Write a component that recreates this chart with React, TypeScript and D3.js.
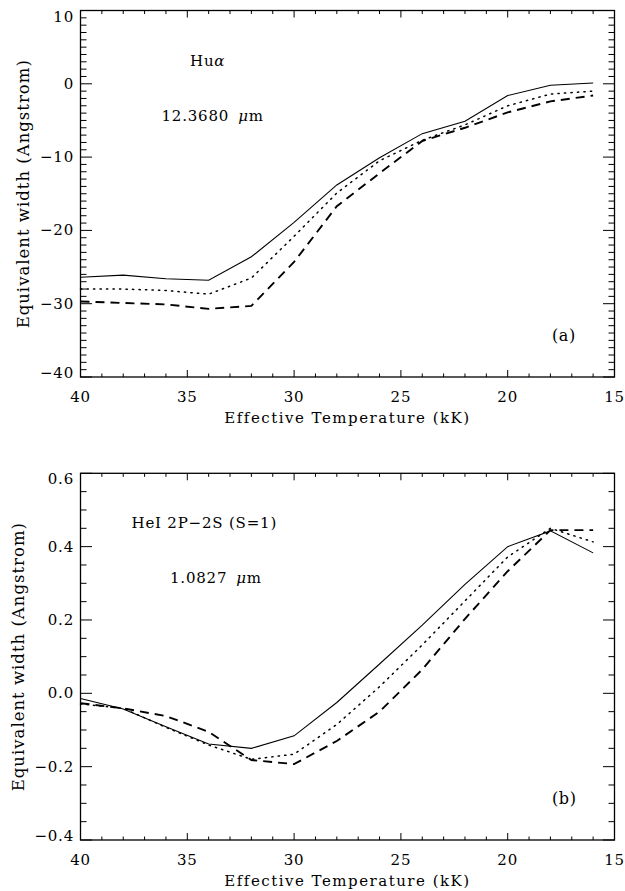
import { useEffect, useRef } from "react";
import * as d3 from "d3";

// effective temperatures of the model grid (kK)
const temps = [40, 38, 36, 34, 32, 30, 28, 26, 24, 22, 20, 18, 16];

// (a) Hu alpha 12.3680 um
const huSolid = [-26.4, -26.1, -26.6, -26.8, -23.6, -18.9, -13.8, -10.1, -6.8, -5.1, -1.6, -0.2, 0.1];
const huDotted = [-28.0, -28.0, -28.2, -28.7, -26.5, -20.8, -14.9, -10.5, -7.7, -5.6, -3.0, -1.4, -1.0];
const huDashed = [-29.7, -29.9, -30.1, -30.7, -30.3, -24.3, -16.7, -12.2, -7.8, -6.0, -3.9, -2.4, -1.6];

// (b) HeI 2P-2S 1.0827 um
const heSolid = [-0.014, -0.043, -0.091, -0.138, -0.15, -0.116, -0.025, 0.08, 0.186, 0.297, 0.4, 0.443, 0.383];
const heDotted = [-0.029, -0.041, -0.093, -0.141, -0.18, -0.166, -0.085, 0.018, 0.132, 0.252, 0.372, 0.45, 0.413];
const heDashed = [-0.027, -0.041, -0.062, -0.105, -0.182, -0.193, -0.13, -0.05, 0.065, 0.203, 0.333, 0.445, 0.445];

const xTicks = [40, 35, 30, 25, 20, 15];
const huTicks = [10, 0, -10, -20, -30, -40];
const huTickLabels = ["10", "0", "\u221210", "\u221220", "\u221230", "\u221240"];
const heTicks = [0.6, 0.4, 0.2, 0.0, -0.2, -0.4];
const heTickLabels = ["0.6", "0.4", "0.2", "0.0", "\u22120.2", "\u22120.4"];

const FONT = "'DejaVu Serif', serif";

type Panel = {
  top: number;
  bottom: number;
  domain: [number, number];
  ticks: number[];
  labels: string[];
  minor: number[];
  series: number[][];
  line1: string;
  line1Italic: string;
  note1: [number, number];
  wave: string;
  note2: [number, number];
  tag: string;
  tagY: number;
  titleX: number;
};

const panels: Panel[] = [
  {
    top: 10.5,
    bottom: 377,
    domain: [-40, 10],
    ticks: huTicks,
    labels: huTickLabels,
    minor: d3.range(-40, 11, 1),
    series: [huSolid, huDotted, huDashed],
    line1: "Hu",
    line1Italic: "\u03b1",
    note1: [190, 66],
    wave: "12.3680",
    note2: [161.5, 120.7],
    tag: "(a)",
    tagY: 341,
    titleX: 28.5,
  },
  {
    top: 473.3,
    bottom: 840,
    domain: [-0.4, 0.6],
    ticks: heTicks,
    labels: heTickLabels,
    minor: d3.range(-8, 13, 1).map((i) => i * 0.05),
    series: [heSolid, heDotted, heDashed],
    line1: "HeI 2P\u22122S (S=1)",
    line1Italic: "",
    note1: [131.5, 528.3],
    wave: "1.0827",
    note2: [170, 583.3],
    tag: "(b)",
    tagY: 804,
    titleX: 24,
  },
];

const styles = [
  { width: 1.1, dash: null },
  { width: 1.5, dash: "1.3,5.2" },
  { width: 1.9, dash: "9,6" },
];

const App = () => {
  const svgRef = useRef<SVGSVGElement>(null);

  useEffect(() => {
    const svg = d3.select(svgRef.current);
    svg.selectAll("*").remove();

    const left = 80.5;
    const right = 614.5;

    const x = d3.scaleLinear().domain([40, 15]).range([left, right]);

    panels.forEach((p) => {
      const y = d3.scaleLinear().domain(p.domain).range([p.bottom, p.top]);
      const g = svg.append("g");

      // ticks (all pointing inward, on all four sides)
      const majorStep = p.ticks[0] - p.ticks[1];
      const isMajorY = (v: number) =>
        Math.abs(v / majorStep - Math.round(v / majorStep)) < 1e-6;

      d3.range(15, 41, 1).forEach((t) => {
        const len = t % 5 === 0 ? 7 : 3.5;
        g.append("line")
          .attr("x1", x(t)).attr("x2", x(t))
          .attr("y1", p.bottom).attr("y2", p.bottom - len)
          .attr("stroke", "#000").attr("stroke-width", 1);
        g.append("line")
          .attr("x1", x(t)).attr("x2", x(t))
          .attr("y1", p.top).attr("y2", p.top + len)
          .attr("stroke", "#000").attr("stroke-width", 1);
      });

      p.minor.forEach((v) => {
        const len = isMajorY(v) ? 11.5 : 6;
        g.append("line")
          .attr("x1", left).attr("x2", left + len)
          .attr("y1", y(v)).attr("y2", y(v))
          .attr("stroke", "#000").attr("stroke-width", 1);
        g.append("line")
          .attr("x1", right).attr("x2", right - len)
          .attr("y1", y(v)).attr("y2", y(v))
          .attr("stroke", "#000").attr("stroke-width", 1);
      });

      // frame
      g.append("rect")
        .attr("x", left).attr("y", p.top)
        .attr("width", right - left).attr("height", p.bottom - p.top)
        .attr("fill", "none").attr("stroke", "#000").attr("stroke-width", 1.3);

      // tick labels
      g.selectAll(".xlab")
        .data(xTicks)
        .enter().append("text")
        .attr("x", (d) => x(d))
        .attr("y", p.bottom + 24.8)
        .attr("text-anchor", "middle")
        .style("font-family", FONT)
        .style("font-size", "15px")
        .style("letter-spacing", "0.8px")
        .text((d) => String(d));

      g.selectAll(".ylab")
        .data(p.ticks)
        .enter().append("text")
        .attr("x", left - 6.5)
        .attr("y", (d) => Math.min(Math.max(y(d), p.top + 6), p.bottom - 4) + 5)
        .attr("text-anchor", "end")
        .style("font-family", FONT)
        .style("font-size", "15px")
        .style("letter-spacing", "0.8px")
        .text((d, i) => p.labels[i]);

      // axis titles
      g.append("text")
        .attr("x", (left + right) / 2)
        .attr("y", p.bottom + 46)
        .attr("text-anchor", "middle")
        .style("font-family", FONT)
        .style("font-size", "15px")
        .style("letter-spacing", "1.5px")
        .text("Effective Temperature (kK)");

      g.append("text")
        .attr("transform", `translate(${p.titleX},${(p.top + p.bottom) / 2}) rotate(-90)`)
        .attr("text-anchor", "middle")
        .style("font-family", FONT)
        .style("font-size", "16.5px")
        .style("letter-spacing", "1px")
        .text("Equivalent width (Angstrom)");

      // model curves
      const line = d3.line<number>()
        .x((d, i) => x(temps[i]))
        .y((d) => y(d));

      p.series.forEach((s, k) => {
        g.append("path")
          .datum(s)
          .attr("d", line)
          .attr("fill", "none")
          .attr("stroke", "#000")
          .attr("stroke-width", styles[k].width)
          .attr("stroke-dasharray", styles[k].dash)
          .attr("stroke-linecap", k === 1 ? "round" : "butt");
      });

      // annotations
      const t1 = g.append("text")
        .attr("x", p.note1[0]).attr("y", p.note1[1])
        .style("font-family", FONT)
        .style("font-size", "15px")
        .style("letter-spacing", "0.8px");
      t1.append("tspan").text(p.line1);
      if (p.line1Italic) t1.append("tspan").style("font-style", "italic").text(p.line1Italic);

      const t2 = g.append("text")
        .attr("x", p.note2[0]).attr("y", p.note2[1])
        .style("font-family", FONT)
        .style("font-size", "15px")
        .style("letter-spacing", "0.8px");
      t2.append("tspan").text(p.wave);
      t2.append("tspan").attr("dx", 9).style("font-style", "italic").text("\u03bc");
      t2.append("tspan").text("m");

      g.append("text")
        .attr("x", 552).attr("y", p.tagY)
        .style("font-family", FONT)
        .style("font-size", "16px")
        .style("letter-spacing", "0.6px")
        .text(p.tag);
    });
  }, []);

  return (
    <svg
      ref={svgRef}
      width={625}
      height={891}
      style={{ position: "absolute", left: 0, top: 0, background: "#fff" }}
    ></svg>
  );
};

export default App;
